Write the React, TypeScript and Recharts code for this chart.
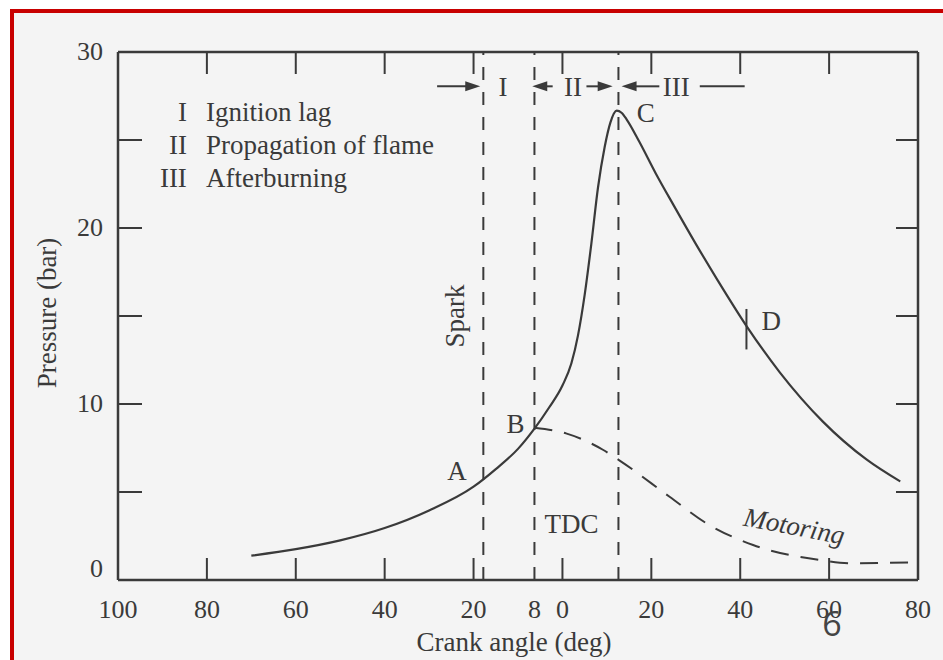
import React from 'react'
import { LineChart, Line, XAxis, YAxis, ReferenceLine, ReferenceDot } from 'recharts'

const INK = '#3a3a3a'
const SERIF = '"Liberation Serif", "Times New Roman", serif'

// fired cycle (crank angle in deg, pressure in bar)
const firedAngle = [-70, -60, -50, -40, -30, -20, -15, -10, -6.3, -3, 0, 2, 3.5, 5, 6.5, 8, 9.5, 10.8, 12.2, 13.3, 14.5, 17.3, 21, 25, 30, 35, 41.5, 48.9, 58.6, 68.4, 76]
const firedPressure = [1.38, 1.75, 2.25, 2.95, 3.95, 5.3, 6.3, 7.45, 8.6, 9.8, 11.05, 12.3, 13.9, 16.2, 19.1, 22.3, 24.6, 26.0, 26.67, 26.55, 26.15, 24.9, 23.1, 21.3, 19.1, 17.0, 14.4, 11.8, 9.0, 6.85, 5.6]

// motoring (no combustion), starts at B
const motoringAngle = [-6.3, 0.8, 9.1, 12.8, 24.1, 32.4, 42.9, 57.9, 65.4, 78.2]
const motoringPressure = [8.65, 8.33, 7.4, 6.8, 4.73, 3.22, 1.99, 1.14, 0.95, 1.0]

const xTicks = [-100, -80, -60, -40, -20, -6.3, 0, 20, 40, 60, 80]
const xTickLabels = ['100', '80', '60', '40', '20', '8', '0', '20', '40', '60', '80']
const xMarks = [-80, -60, -40, -20, 0, 20, 40, 60]
const yTicks = [0, 5, 10, 15, 20, 25, 30]
const yTickLabels = ['0', '', '10', '', '20', '', '30']
const yMarks = [5, 10, 15, 20, 25]

// spark, start of flame propagation, peak pressure
const phaseLines = [-17.8, -6.3, 12.6]

const firedData = firedAngle.map((a, i) => ({ angle: a, p: firedPressure[i] }))
const motoringData = motoringAngle.map((a, i) => ({ angle: a, p: motoringPressure[i] }))

const ARROW_Y = 28.05
const arrows = [
  { from: -28.2, to: -18.5, head: true },
  { from: -2.2, to: -6.8, head: true },
  { from: 5.4, to: 11.3, head: true },
  { from: 21.8, to: 13.3, head: true },
  { from: 30.9, to: 41, head: false },
]

type Note = { text: string; x: number; y: number; anchor?: string; size?: number; italic?: boolean; rotate?: number }

const notes: Note[] = [
  { text: 'I', x: -84.5, y: 26.08, anchor: 'end' },
  { text: 'Ignition lag', x: -80.2, y: 26.08 },
  { text: 'II', x: -84.5, y: 24.2, anchor: 'end' },
  { text: 'Propagation of flame', x: -80.2, y: 24.2 },
  { text: 'III', x: -84.5, y: 22.33, anchor: 'end' },
  { text: 'Afterburning', x: -80.2, y: 22.33 },
  { text: 'I', x: -13.4, y: 27.5, anchor: 'middle' },
  { text: 'II', x: 2.4, y: 27.5, anchor: 'middle' },
  { text: 'III', x: 25.6, y: 27.5, anchor: 'middle' },
  { text: 'A', x: -25.9, y: 5.68 },
  { text: 'B', x: -12.6, y: 8.35 },
  { text: 'C', x: 16.7, y: 26.0 },
  { text: 'D', x: 44.8, y: 14.2 },
  { text: 'TDC', x: -4.05, y: 2.67 },
  { text: 'Spark', x: -22.1, y: 15.0, anchor: 'middle', rotate: -90 },
  { text: 'Motoring', x: 51.8, y: 2.56, anchor: 'middle', italic: true, size: 27, rotate: 10.8 },
]

const BottomTick = ({ x, y, payload }: any) => {
  const v = payload.value
  return (
    <g>
      {xMarks.includes(v) && <line x1={x} y1={y} x2={x} y2={y - 22} stroke={INK} strokeWidth={2} />}
      <text x={x} y={y + 38} textAnchor="middle" fontFamily={SERIF} fontSize={26} fill={INK}>
        {xTickLabels[xTicks.indexOf(v)]}
      </text>
    </g>
  )
}

const TopTick = ({ x, y }: any) => <line x1={x} y1={y} x2={x} y2={y + 22} stroke={INK} strokeWidth={2} />

const LeftTick = ({ x, y, payload }: any) => {
  const v = payload.value
  return (
    <g>
      {yMarks.includes(v) && <line x1={x} y1={y} x2={x + 24} y2={y} stroke={INK} strokeWidth={2} />}
      <text x={x - 15} y={v === 0 ? y - 3 : y + 8} textAnchor="end" fontFamily={SERIF} fontSize={26} fill={INK}>
        {yTickLabels[yTicks.indexOf(v)]}
      </text>
    </g>
  )
}

const RightTick = ({ x, y }: any) => <line x1={x} y1={y} x2={x - 22} y2={y} stroke={INK} strokeWidth={2} />

const arrowShape = (head: boolean) => (p: any) => {
  const { x1, y1, x2, y2 } = p
  const dir = Math.sign(x2 - x1)
  return (
    <g>
      <line x1={x1} y1={y1} x2={head ? x2 - dir * 8 : x2} y2={y2} stroke={INK} strokeWidth={2} />
      {head && <polygon points={`${x2},${y2} ${x2 - dir * 15},${y2 - 5} ${x2 - dir * 15},${y2 + 5}`} fill={INK} />}
    </g>
  )
}

const noteShape = (n: Note) => (p: any) => (
  <text
    x={p.cx}
    y={p.cy}
    textAnchor={n.anchor ?? 'start'}
    fontFamily={SERIF}
    fontSize={n.size ?? 27}
    fontStyle={n.italic ? 'italic' : 'normal'}
    fill={INK}
    transform={n.rotate ? `rotate(${n.rotate} ${p.cx} ${p.cy})` : undefined}
  >
    {n.text}
  </text>
)

export default function App() {
  const axisLine = { stroke: INK, strokeWidth: 2.5 }
  return (
    <div style={{ position: 'absolute', left: 0, top: 0, width: 943, height: 660, overflow: 'hidden', background: '#ffffff' }}>
      <div
        style={{
          position: 'absolute',
          left: 10,
          top: 9,
          width: 943,
          height: 660,
          borderTop: '4px solid #c80000',
          borderLeft: '4px solid #c80000',
          background: '#f4f4f4',
        }}
      />
      <div style={{ position: 'absolute', left: 0, top: 0 }}>
        <LineChart width={943} height={660} margin={{ top: 51, right: 24, left: 58, bottom: 40 }}>
          <XAxis
            dataKey="angle"
            type="number"
            domain={[-100, 80]}
            ticks={xTicks}
            interval={0}
            height={40}
            tickSize={0}
            tickMargin={0}
            tickLine={false}
            axisLine={axisLine}
            tick={<BottomTick />}
          />
          <XAxis
            xAxisId="top"
            dataKey="angle"
            orientation="top"
            type="number"
            domain={[-100, 80]}
            ticks={xMarks}
            interval={0}
            height={1}
            tickSize={0}
            tickMargin={0}
            tickLine={false}
            axisLine={axisLine}
            tick={<TopTick />}
          />
          <YAxis
            type="number"
            domain={[0, 30]}
            ticks={yTicks}
            interval={0}
            width={60}
            tickSize={0}
            tickMargin={0}
            tickLine={false}
            axisLine={axisLine}
            tick={<LeftTick />}
          />
          <YAxis
            yAxisId="right"
            orientation="right"
            type="number"
            domain={[0, 30]}
            ticks={yMarks}
            interval={0}
            width={1}
            tickSize={0}
            tickMargin={0}
            tickLine={false}
            axisLine={axisLine}
            tick={<RightTick />}
          />
          {phaseLines.map((x) => (
            <ReferenceLine key={`ph${x}`} x={x} stroke={INK} strokeWidth={2} strokeDasharray="13 12" />
          ))}
          <ReferenceLine segment={[{ x: 41.4, y: 13.1 }, { x: 41.4, y: 15.4 }]} stroke={INK} strokeWidth={2} />
          {arrows.map((a, i) => (
            <ReferenceLine
              key={`ar${i}`}
              segment={[{ x: a.from, y: ARROW_Y }, { x: a.to, y: ARROW_Y }]}
              stroke={INK}
              shape={arrowShape(a.head)}
            />
          ))}
          <Line
            data={motoringData}
            dataKey="p"
            xAxisId="top"
            yAxisId="right"
            type="monotone"
            stroke={INK}
            strokeWidth={2}
            strokeDasharray="18 12"
            dot={false}
            activeDot={false}
            isAnimationActive={false}
          />
          <Line
            data={firedData}
            dataKey="p"
            type="monotone"
            stroke={INK}
            strokeWidth={2.2}
            dot={false}
            activeDot={false}
            isAnimationActive={false}
          />
          {notes.map((n, i) => (
            <ReferenceDot key={`n${i}`} x={n.x} y={n.y} r={1} shape={noteShape(n)} />
          ))}
        </LineChart>
      </div>
      <svg width={943} height={660} style={{ position: 'absolute', left: 0, top: 0, pointerEvents: 'none' }}>
        <text x={47} y={313} transform="rotate(-90 47 313)" textAnchor="middle" dominantBaseline="central" fontFamily={SERIF} fontSize={27} fill={INK}>
          Pressure (bar)
        </text>
        <text x={514} y={651} textAnchor="middle" fontFamily={SERIF} fontSize={27} fill={INK}>
          Crank angle (deg)
        </text>
        <text x={832} y={636} textAnchor="middle" fontFamily={'"Open Sans", sans-serif'} fontSize={34} fill="#444">
          6
        </text>
      </svg>
    </div>
  )
}
